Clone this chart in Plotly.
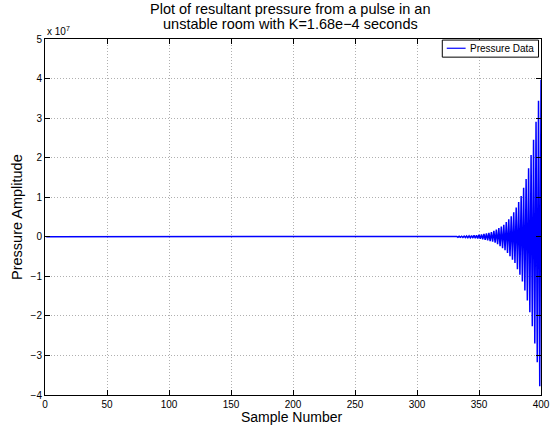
import numpy as np
import plotly.graph_objects as go

# ---- data ----
first_sample = 1
quiet_samples = [0.0] * 319          # samples 1..319: visually flat at zero
# samples 320..400, pressure in units of 1e7
tail_e7 = [
    0.003, -0.0035, 0.0038, -0.004, 0.0045, -0.005, 0.0055, -0.006, 0.0065, -0.007,
    0.008, -0.009, 0.010, -0.011, 0.012, -0.013, 0.015, -0.016, 0.017, -0.019,
    0.021, -0.023, 0.025, -0.027, 0.029, -0.032, 0.035, -0.038, 0.041, -0.045,
    0.049, -0.053, 0.058, -0.063, 0.07, -0.075, 0.085, -0.09, 0.10, -0.11,
    0.12, -0.125, 0.15, -0.15, 0.18, -0.19, 0.22, -0.24, 0.26, -0.29,
    0.30, -0.34, 0.37, -0.41, 0.44, -0.49, 0.52, -0.58, 0.62, -0.66,
    0.74, -0.82, 0.88, -0.96, 1.03, -1.13, 1.24, -1.36, 1.46, -1.61,
    1.73, -1.91, 2.07, -2.26, 2.45, -2.70, 2.91, -3.17, 3.44, -3.78,
    3.97,
]
scale = 1e7
x_ticks = [0, 50, 100, 150, 200, 250, 300, 350, 400]
y_ticks_e7 = [-4, -3, -2, -1, 0, 1, 2, 3, 4, 5]
y_tick_labels = ["\u22124", "\u22123", "\u22122", "\u22121", "0", "1", "2", "3", "4", "5"]
series_name = "Pressure Data"
title_lines = ["Plot of resultant pressure from a pulse in an",
               "unstable room with K=1.68e\u22124 seconds"]

pressure = np.array(quiet_samples + tail_e7) * scale
samples = np.arange(first_sample, first_sample + len(pressure))

font_family = "Liberation Sans, Arial, Helvetica, sans-serif"
line_color = "#0000ff"

fig = go.Figure()
fig.add_trace(go.Scatter(
    x=samples, y=pressure, mode="lines", name=series_name,
    line=dict(color=line_color, width=1.5), showlegend=False,
))

axis_common = dict(
    showline=True, linecolor="black", linewidth=1, mirror="ticks",
    ticks="inside", ticklen=5, tickcolor="black",
    showgrid=True, gridcolor="#b0b0b0", griddash="1px,2px", gridwidth=1,
    zeroline=False, automargin=False,
    tickfont=dict(family=font_family, size=10, color="black"),
)

annotations = [
    dict(text=title_lines[0], xref="paper", yref="paper", x=0.494, y=1.0855,
         xanchor="center", yanchor="middle", showarrow=False,
         font=dict(size=14.5, family=font_family, color="black")),
    dict(text=title_lines[1], xref="paper", yref="paper", x=0.494, y=1.041,
         xanchor="center", yanchor="middle", showarrow=False,
         font=dict(size=14.5, family=font_family, color="black")),
    dict(text="x 10<sup>7</sup>", xref="paper", yref="paper", x=0.0, y=1.0,
         xanchor="left", yanchor="bottom", showarrow=False,
         font=dict(size=10, family=font_family, color="black")),
    dict(text="Sample Number", xref="paper", yref="paper", x=0.496, y=-0.062,
         xanchor="center", yanchor="middle", showarrow=False,
         font=dict(size=14, family=font_family, color="black")),
    dict(text="Pressure Amplitude", xref="paper", yref="paper", x=-0.0565, y=0.5,
         xanchor="center", yanchor="middle", showarrow=False, textangle=-90,
         font=dict(size=14.5, family=font_family, color="black")),
    # legend label
    dict(text=series_name, xref="paper", yref="paper", x=0.852, y=0.974,
         xanchor="left", yanchor="middle", showarrow=False,
         font=dict(size=10, family=font_family, color="black")),
]

shapes = [
    # legend box
    dict(type="rect", xref="paper", yref="paper", x0=0.801, x1=0.995, y0=0.949, y1=0.997,
         line=dict(color="black", width=1), fillcolor="white", layer="above"),
    # legend line sample
    dict(type="line", xref="paper", yref="paper", x0=0.810, x1=0.848, y0=0.974, y1=0.974,
         line=dict(color=line_color, width=1.2), layer="above"),
]

fig.update_layout(
    width=553, height=430,
    margin=dict(l=45, r=12, t=39, b=35),
    paper_bgcolor="white", plot_bgcolor="white",
    font=dict(family=font_family, color="black"),
    xaxis=dict(range=[0, 400], tickvals=x_ticks, **axis_common),
    yaxis=dict(
        range=[-4 * scale, 5 * scale],
        tickvals=[v * scale for v in y_ticks_e7], ticktext=y_tick_labels,
        **axis_common,
    ),
    showlegend=False,
    annotations=annotations,
    shapes=shapes,
)

fig.write_html(
    "out.html",
    config={"displayModeBar": False},
    post_script="document.body.style.margin='0px';document.body.style.overflow='hidden';",
)
